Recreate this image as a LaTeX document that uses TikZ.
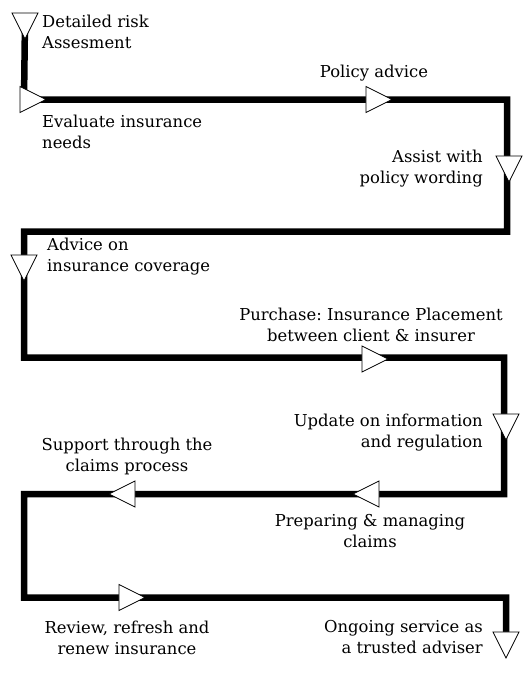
\documentclass[tikz,border=0pt]{standalone}
\usepackage{fontspec}
\setmainfont{DejaVu Serif}
\usetikzlibrary{shapes.geometric,backgrounds}
\frenchspacing
\tikzset{
  tri/.style={isosceles triangle, isosceles triangle stretches, minimum width=26pt, minimum height=26pt, inner sep=0pt, draw=black, fill=white, line width=0.8pt},
  tdown/.style={tri, shape border rotate=-90},
  tright/.style={tri, shape border rotate=0},
  tleft/.style={tri, shape border rotate=180},
  flow/.style={line width=6.5pt, line join=miter, draw=black},
  lbl/.style={inner sep=0pt, font=\fontsize{16.4}{21}\selectfont},
}
\begin{document}
\begin{tikzpicture}[x=1pt,y=-1pt]
\useasboundingbox (0,0) rectangle (529,675);
% corners
\coordinate (c1) at (24,99.5);
\coordinate (c2) at (507,99.5);
\coordinate (c3) at (507,231.5);
\coordinate (c4) at (24,231.5);
\coordinate (c5) at (24,357.5);
\coordinate (c6) at (504,357.5);
\coordinate (c7) at (504,494);
\coordinate (c8) at (24,494);
\coordinate (c9) at (24,597.5);
\coordinate (c10) at (506,597.5);
% triangles
\node[tdown]  (t1)  at (25,21) {};
\node[tright] (t2)  at (28,99.5) {};
\node[tright] (t3)  at (374,99.5) {};
\node[tdown]  (t4)  at (509,164) {};
\node[tdown]  (t5)  at (24,263) {};
\node[tright] (t6)  at (370,359) {};
\node[tdown]  (t7)  at (506,422) {};
\node[tleft]  (t8)  at (371,494) {};
\node[tleft]  (t9)  at (127,494) {};
\node[tright] (t10) at (127,597.5) {};
\node[tdown]  (t11) at (506,640) {};
% flow line
\begin{scope}[on background layer]
\draw[flow] (t1.center) -- (c1) -- (c2) -- (c3) -- (c4) -- (c5) -- (c6) -- (c7) -- (c8) -- (c9) -- (c10) -- (t11.center);
\end{scope}
% labels
\node[lbl, anchor=north west, align=left] (l1) at (42,14.5) {Detailed risk\\Assesment};
\node[lbl, anchor=north west, align=left] (l2) at (42,114.5) {Evaluate insurance\\needs};
\node[lbl, anchor=north] (l3) at (374,64.5) {Policy advice};
\node[lbl, anchor=north east, align=right] (l4) at (483,149.5) {Assist with\\policy wording};
\node[lbl, anchor=north west, align=left] (l5) at (47,237.5) {Advice on\\insurance coverage};
\node[lbl, anchor=north, align=center] (l6) at (371,307.5) {Purchase: Insurance Placement\\between client \& insurer};
\node[lbl, anchor=north east, align=right] (l7) at (483,413.5) {Update on information\\and regulation};
\node[lbl, anchor=north, align=center] (l8) at (127,437.5) {Support through the\\claims process};
\node[lbl, anchor=north, align=center] (l9) at (370,514.5) {Preparing \& managing\\claims};
\node[lbl, anchor=north, align=center] (l10) at (127,620.5) {Review, refresh and\\renew insurance};
\node[lbl, anchor=north east, align=right] (l11) at (483,620.5) {Ongoing service as\\a trusted adviser};
\end{tikzpicture}
\end{document}
